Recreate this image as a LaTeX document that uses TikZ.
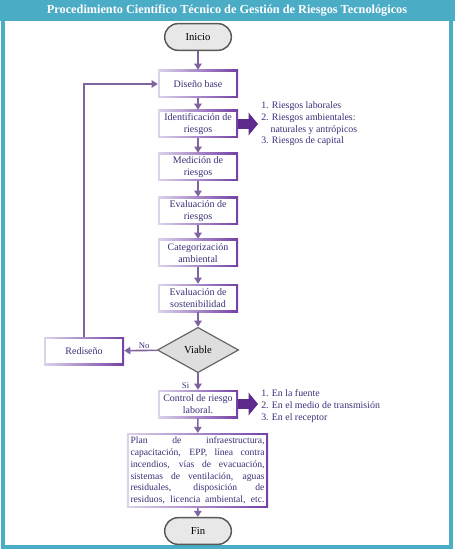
\documentclass[tikz,border=0pt]{standalone}
\usepackage{fontspec}
\newfontfamily\timesfont{Liberation Serif}
\usetikzlibrary{shapes.geometric,arrows.meta}
\definecolor{framecol}{HTML}{4BACC6}
\definecolor{flowcol}{HTML}{8064A2}
\definecolor{bigcol}{HTML}{5E2A8C}
\definecolor{boxlight}{HTML}{DCD3EA}
\definecolor{boxdark}{HTML}{7440A6}
\definecolor{txtcol}{HTML}{3A2F78}
\newcommand{\planline}[1]{\makebox[100.5pt][s]{#1}}

\begin{document}
\begin{tikzpicture}[x=0.75pt,y=-0.75pt,
  every node/.style={font=\timesfont\fontsize{7.5}{9}\selectfont, text=txtcol},
  pbox/.style={rectangle, minimum width=60pt, minimum height=21pt,
    align=center, inner sep=2pt,
    path picture={
      \shade[left color=boxlight, right color=boxdark]
        (path picture bounding box.south west) rectangle (path picture bounding box.north east);
      \fill[white] ([shift={(1.3pt,1.3pt)}]path picture bounding box.south west)
        rectangle ([shift={(-1.3pt,-1.3pt)}]path picture bounding box.north east);}},
  term/.style={rectangle, rounded corners=10pt, minimum width=50pt, minimum height=20pt,
    fill=black!9, draw=black!65, line width=1.1pt, text=black, font=\timesfont\fontsize{8}{9}\selectfont},
  decision/.style={diamond, aspect=1.8, minimum width=61pt, minimum height=34pt, inner sep=0pt,
    fill=black!13, draw=black!60, line width=0.9pt, text=black, font=\timesfont\fontsize{8}{9}\selectfont},
  flow/.style={draw=flowcol, line width=1.2pt, -{Triangle[length=4.5pt,width=5.5pt]}},
  bigarrow/.style={draw=bigcol, line width=7pt, -{Triangle[length=7pt,width=16.5pt]}},
  listtxt/.style={anchor=west, align=left, inner sep=0pt, font=\timesfont\fontsize{7.4}{8.8}\selectfont},
  lbl/.style={inner sep=1pt, font=\timesfont\fontsize{6.5}{7}\selectfont}]
\useasboundingbox (0,0) rectangle (455,555);
% frame and title
\fill[framecol] (0,0) rectangle (455,21);
\draw[framecol, line width=2.4pt] (3,21) -- (3,547) -- (451,547) -- (451,21);
\node[text=white, font=\timesfont\bfseries\fontsize{9.2}{10}\selectfont] (title) at (227,10.5)
  {Procedimiento Científico Técnico de Gestión de Riesgos Tecnológicos};

% main column
\node[term] (inicio) at (198,37) {Inicio};
\node[pbox] (diseno) at (198,84) {Diseño base};
\node[pbox] (ident) at (198,124) {Identificación de\\ riesgos};
\node[pbox] (medic) at (198,167) {Medición de\\ riesgos};
\node[pbox] (evalr) at (198,211) {Evaluación de\\ riesgos};
\node[pbox] (categ) at (198,253) {Categorización\\ ambiental};
\node[pbox] (evals) at (198,298) {Evaluación de\\ sostenibilidad};
\node[decision] (viable) at (198,350) {Viable};
\node[pbox] (redis) at (84,351) {Rediseño};
\node[pbox] (control) at (198,404) {Control de riesgo\\ laboral.};
\node[pbox, align=left, inner sep=2.7pt, minimum width=106pt, minimum height=56pt,
  font=\timesfont\fontsize{7.2}{8.8}\selectfont] (plan) at (197.5,470.5)
  {\planline{Plan de infraestructura,}\\
   \planline{capacitación, EPP, línea contra}\\
   \planline{incendios, vías de evacuación,}\\
   \planline{sistemas de ventilación, aguas}\\
   \planline{residuales, disposición de}\\
   \planline{residuos, licencia ambiental, etc.}};
\node[term] (fin) at (198,531) {Fin};

% side lists
\coordinate (identout) at (258,124);
\coordinate (controlout) at (258,404);
\node[listtxt] (listident) at (261,124)
  {1. Riesgos laborales\\
   2. Riesgos ambientales:\\
   \hspace*{7pt}naturales y antrópicos\\
   3. Riesgos de capital};
\node[listtxt] (listcontrol) at (261,406)
  {1. En la fuente\\
   2. En el medio de transmisión\\
   3. En el receptor};

% connectors
\draw[flow] (inicio) -- (diseno);
\draw[flow] (diseno) -- (ident);
\draw[flow] (ident) -- (medic);
\draw[flow] (medic) -- (evalr);
\draw[flow] (evalr) -- (categ);
\draw[flow] (categ) -- (evals);
\draw[flow] (evals) -- (viable);
\draw[flow] (viable) -- node[lbl, above, pos=0.4] {No} (redis);
\draw[flow] (viable) -- node[lbl, left=5pt, pos=0.75] {Si} (control);
\draw[flow] (redis.north) |- (diseno.west);
\draw[flow] (control) -- (plan);
\draw[flow] (plan) -- (fin);
\draw[bigarrow] (ident.east) -- (identout);
\draw[bigarrow] (control.east) -- (controlout);
\end{tikzpicture}
\end{document}
